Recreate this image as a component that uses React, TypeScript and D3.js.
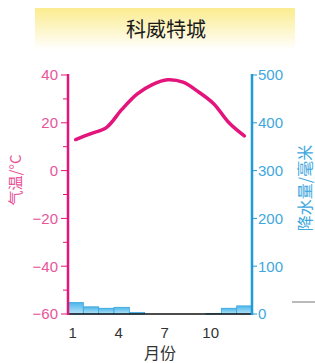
import * as d3 from "d3";
import {useEffect, useRef} from "react";

const months = [1, 2, 3, 4, 5, 6, 7, 8, 9, 10, 11, 12];
const temperature = [13, 15.5, 18, 25.5, 32, 36, 38, 37, 33, 28, 20, 14.5];
const precipitation = [24, 15, 12, 14, 3, 0, 0, 0, 0, 1, 12, 17];
const tempTicks = [40, 20, 0, -20, -40, -60];
const precTicks = [500, 400, 300, 200, 100, 0];
const monthLabels = [1, 4, 7, 10];

export default function App() {
  const svgRef = useRef<SVGSVGElement | null>(null);

  useEffect(() => {
    const width = 315;
    const height = 363;
    const left = 68;
    const right = 252;
    const top = 75;
    const bottom = 314;

    const pink = "#e3147c";
    const pinkText = "#e8559a";
    const blue = "#1f9bd7";
    const blueText = "#3ea8de";
    const numFont = "'Liberation Sans', Arial, sans-serif";
    const cjkFont = "'Noto Sans CJK SC', sans-serif";

    const svg = d3.select(svgRef.current)
        .attr("width", width)
        .attr("height", height);
    svg.selectAll("*").remove();

    const x = d3.scaleBand<number>().domain(months).range([left, right]).padding(0);
    const yT = d3.scaleLinear().domain([-60, 40]).range([bottom, top]);
    const yP = d3.scaleLinear().domain([0, 500]).range([bottom, top]);

    const defs = svg.append("defs");
    const tg = defs.append("linearGradient").attr("id", "titleGrad")
        .attr("x1", 0).attr("y1", 0).attr("x2", 0).attr("y2", 1);
    tg.append("stop").attr("offset", "0%").attr("stop-color", "#fbec8f");
    tg.append("stop").attr("offset", "100%").attr("stop-color", "#ffffff");
    const bg = defs.append("linearGradient").attr("id", "barGrad")
        .attr("x1", 0).attr("y1", 0).attr("x2", 0).attr("y2", 1);
    bg.append("stop").attr("offset", "0%").attr("stop-color", "#4bb6ea");
    bg.append("stop").attr("offset", "100%").attr("stop-color", "#b6e3f8");

    // title box
    svg.append("rect")
        .attr("x", 35).attr("y", 8).attr("width", 260).attr("height", 42)
        .attr("fill", "url(#titleGrad)");
    svg.append("text")
        .attr("x", 166).attr("y", 37)
        .attr("text-anchor", "middle")
        .attr("font-family", cjkFont)
        .attr("font-size", 20)
        .attr("fill", "#1a1a1a")
        .text("科威特城");

    // precipitation bars
    svg.selectAll(".bar")
        .data(months.filter((_, i) => precipitation[i] > 0))
        .enter().append("rect")
        .attr("class", "bar")
        .attr("x", d => x(d)!)
        .attr("width", x.bandwidth())
        .attr("y", d => yP(precipitation[d - 1]))
        .attr("height", d => bottom - yP(precipitation[d - 1]))
        .attr("fill", "url(#barGrad)")
        .attr("stroke", "#3aa6de")
        .attr("stroke-width", 0.8);

    // baseline
    svg.append("line")
        .attr("x1", left).attr("x2", right)
        .attr("y1", bottom).attr("y2", bottom)
        .attr("stroke", "#111").attr("stroke-width", 1.6);

    // temperature line
    const line = d3.line<number>()
        .x((_, i) => x(months[i])! + x.bandwidth() / 2)
        .y(d => yT(d))
        .curve(d3.curveCatmullRom.alpha(0.5));
    svg.append("path")
        .attr("d", line(temperature))
        .attr("fill", "none")
        .attr("stroke", pink)
        .attr("stroke-width", 3.5)
        .attr("stroke-linecap", "round");

    // left axis
    svg.append("line")
        .attr("x1", left).attr("x2", left)
        .attr("y1", top - 1).attr("y2", bottom + 1)
        .attr("stroke", pink).attr("stroke-width", 2.5);
    const leftAxis = svg.append("g");
    leftAxis.selectAll("line")
        .data(d3.range(-60, 41, 10))
        .enter().append("line")
        .attr("x1", d => d % 20 === 0 ? left - 7 : left - 5).attr("x2", left)
        .attr("y1", d => yT(d)).attr("y2", d => yT(d))
        .attr("stroke", pink).attr("stroke-width", 1);
    leftAxis.selectAll("text")
        .data(tempTicks)
        .enter().append("text")
        .attr("x", left - 10)
        .attr("y", d => yT(d))
        .attr("dy", "0.36em")
        .attr("text-anchor", "end")
        .attr("font-family", numFont)
        .attr("font-size", 15)
        .attr("fill", pinkText)
        .text(d => d < 0 ? "\u2212" + Math.abs(d) : String(d));

    // right axis
    svg.append("line")
        .attr("x1", right).attr("x2", right)
        .attr("y1", top - 1).attr("y2", bottom + 1)
        .attr("stroke", blue).attr("stroke-width", 2.5);
    const rightAxis = svg.append("g");
    rightAxis.selectAll("line")
        .data(precTicks)
        .enter().append("line")
        .attr("x1", right).attr("x2", right + 5)
        .attr("y1", d => yP(d)).attr("y2", d => yP(d))
        .attr("stroke", blue).attr("stroke-width", 1);
    rightAxis.selectAll("text")
        .data(precTicks)
        .enter().append("text")
        .attr("x", right + 6)
        .attr("y", d => yP(d))
        .attr("dy", "0.36em")
        .attr("font-family", numFont)
        .attr("font-size", 15)
        .attr("fill", blueText)
        .text(d => String(d));

    // month labels
    svg.selectAll(".mlabel")
        .data(monthLabels)
        .enter().append("text")
        .attr("class", "mlabel")
        .attr("x", d => x(d)! + x.bandwidth() / 2 - 3)
        .attr("y", 338)
        .attr("text-anchor", "middle")
        .attr("font-family", numFont)
        .attr("font-size", 15)
        .attr("fill", "#333")
        .text(d => String(d));

    svg.append("text")
        .attr("x", 160).attr("y", 359)
        .attr("text-anchor", "middle")
        .attr("font-family", cjkFont)
        .attr("font-size", 16)
        .attr("fill", "#333")
        .text("月份");

    // axis titles
    svg.append("text")
        .attr("transform", "translate(21,180) rotate(-90)")
        .attr("text-anchor", "middle")
        .attr("font-family", cjkFont)
        .attr("font-size", 15)
        .attr("fill", pinkText)
        .text("气温/°C");
    svg.append("text")
        .attr("transform", "translate(311,188) rotate(-90)")
        .attr("text-anchor", "middle")
        .attr("font-family", cjkFont)
        .attr("font-size", 16)
        .attr("fill", blueText)
        .text("降水量/毫米");

    // stray mark at right
    svg.append("line")
        .attr("x1", 292).attr("x2", 315)
        .attr("y1", 302).attr("y2", 302)
        .attr("stroke", "#777").attr("stroke-width", 1);
  }, []);

  return (
      <svg ref={svgRef} style={{position: "absolute", left: 0, top: 0}}></svg>
  );
}
